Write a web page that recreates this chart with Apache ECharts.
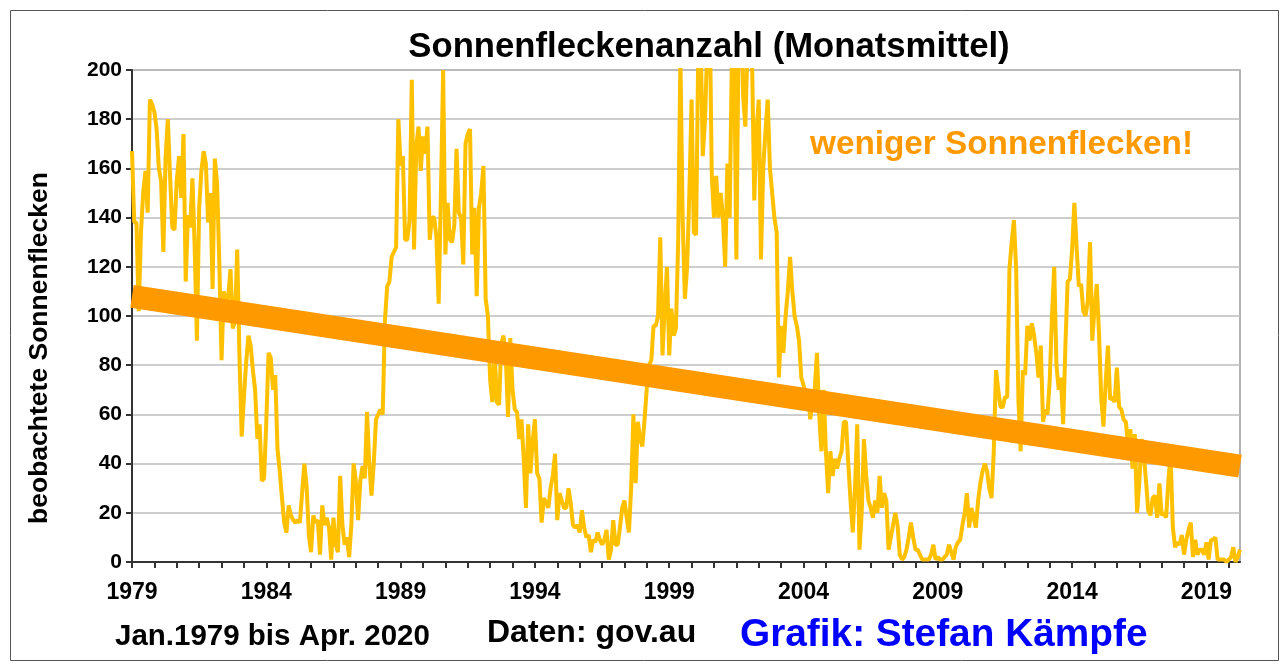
<!DOCTYPE html>
<html>
<head>
<meta charset="utf-8">
<script src="https://cdn.jsdelivr.net/npm/echarts@6/dist/echarts.min.js"></script>
<style>
  html, body { margin: 0; padding: 0; background: #fff; }
  #chart { width: 1285px; height: 666px; }
</style>
</head>
<body>
<div id="chart"></div>
<script>
// Monatsmittel der Sonnenflecken, Jan. 1979 bis Apr. 2020
const ssn1979to1988 = [
  167, 138, 138, 102, 134, 150, 159, 142, 188, 186, 183, 176,
  160, 155, 126, 164, 180, 157, 136, 135, 155, 165, 148, 174,
  114, 141, 136, 156, 128, 90, 144, 159, 167, 162, 138, 150,
  111, 164, 154, 122, 82, 110, 106, 108, 119, 95, 98, 127,
  84, 51, 67, 81, 92, 88, 78, 70, 50, 56, 33, 34,
  57, 85, 83, 70, 76, 46, 37, 26, 16, 12, 23, 19,
  17, 16, 17, 16, 28, 40, 31, 11, 4, 19, 16, 17,
  3, 23, 15, 18, 14, 1, 18, 7, 4, 35, 15, 7,
  10, 2, 15, 40, 33, 17, 33, 39, 34, 61, 40, 27,
  40, 58, 60, 62, 60, 98, 112, 114, 124, 126, 128, 180
]
const ssn1989to1998 = [
  161, 165, 131, 131, 139, 196, 127, 169, 177, 159, 173, 166,
  177, 131, 140, 140, 132, 105, 149, 200, 125, 146, 131, 130,
  137, 168, 142, 140, 121, 170, 174, 176, 125, 144, 108, 144,
  150, 161, 107, 100, 74, 65, 86, 65, 64, 89, 92, 83,
  59, 91, 70, 62, 61, 50, 58, 42, 22, 56, 36, 49,
  58, 36, 34, 16, 26, 24, 22, 30, 35, 44, 17, 28,
  25, 22, 22, 30, 24, 15, 14, 15, 12, 21, 14, 10,
  11, 4, 9, 8, 12, 9, 7, 9, 13, 1, 5, 17,
  7, 7, 14, 22, 25, 18, 12, 30, 60, 32, 57, 50,
  47, 58, 71, 80, 82, 96, 96, 100, 132, 84, 104, 120
]
const ssn1999to2008 = [
  84, 103, 92, 95, 130, 205, 140, 107, 120, 150, 188, 134,
  133, 210, 215, 165, 180, 210, 230, 158, 140, 157, 140, 150,
  140, 120, 162, 140, 205, 210, 123, 215, 235, 190, 177, 210,
  210, 205, 147, 175, 188, 123, 160, 175, 188, 160, 150, 140,
  134, 75, 96, 85, 100, 110, 124, 110, 100, 96, 90, 75,
  72, 68, 70, 58, 65, 70, 85, 60, 45, 70, 45, 28,
  45, 35, 42, 38, 42, 45, 57, 57, 40, 25, 12, 30,
  56, 5, 20, 50, 35, 25, 22, 18, 25, 20, 35, 22,
  28, 25, 5, 10, 15, 20, 15, 3, 1, 2, 5, 10,
  16, 10, 5, 5, 3, 1, 1, 1, 1, 3, 7, 1
]
const ssn2009to2020 = [
  2, 1, 1, 2, 3, 7, 4, 1, 6, 8, 9, 15,
  20, 28, 14, 22, 18, 14, 25, 32, 37, 40, 37, 30,
  26, 45, 78, 70, 63, 63, 67, 67, 119, 130, 139, 119,
  66, 45, 78, 76, 96, 90, 97, 92, 85, 75, 88, 57,
  62, 60, 74, 100, 120, 80, 70, 75, 56, 88, 114, 115,
  127, 146, 128, 112, 113, 102, 100, 106, 130, 90, 103, 113,
  93, 67, 55, 73, 88, 66, 67, 65, 79, 63, 62, 58,
  57, 47, 54, 38, 52, 20, 32, 50, 44, 33, 21, 19,
  26, 27, 18, 32, 19, 20, 18, 33, 44, 14, 6, 8,
  7, 11, 3, 9, 13, 16, 2, 9, 3, 5, 5, 3,
  8, 1, 9, 9, 10, 1, 1, 1, 1, 0, 1, 2,
  6, 0, 2, 5
]
// Trendgerade (Anfangs- und Endwert)
const trendStart = 108
const trendEnd = 39
const yTicks = [0, 20, 40, 60, 80, 100, 120, 140, 160, 180, 200]

const sunspots = [].concat(ssn1979to1988, ssn1989to1998, ssn1999to2008, ssn2009to2020)
const months = sunspots.map((v, i) => {
  const year = 1979 + Math.floor(i / 12)
  return year + '-' + String(i % 12 + 1).padStart(2, '0')
})

const font = "'Liberation Sans', Arial, sans-serif"
const chart = echarts.init(document.getElementById('chart'))

chart.setOption({
  backgroundColor: '#fff',
  animation: false,
  title: {
    text: 'Sonnenfleckenanzahl (Monatsmittel)',
    left: 704,
    top: 25,
    textAlign: 'center',
    textStyle: { fontFamily: font, fontWeight: 'bold', fontSize: 34.7, color: '#000' }
  },
  grid: {
    left: 132,
    right: 45,
    top: 70,
    bottom: 104,
    show: true,
    borderColor: '#999',
    borderWidth: 1.5
  },
  xAxis: {
    type: 'category',
    data: months,
    boundaryGap: false,
    axisLine: { lineStyle: { color: '#333', width: 2 } },
    axisTick: { interval: 9, length: 6, inside: false, lineStyle: { color: '#333', width: 2 } },
    axisLabel: {
      interval: 59,
      formatter: (v) => v.slice(0, 4),
      fontFamily: font,
      fontWeight: 'bold',
      fontSize: 23,
      color: '#000',
      margin: 19
    },
    splitLine: { show: false }
  },
  yAxis: {
    type: 'value',
    min: yTicks[0],
    max: yTicks[yTicks.length - 1],
    interval: 20,
    axisLine: { show: true, lineStyle: { color: '#333', width: 2 } },
    axisTick: { show: true, length: 6, lineStyle: { color: '#333', width: 2 } },
    axisLabel: { fontFamily: font, fontWeight: 'bold', fontSize: 21, color: '#000', margin: 10 },
    splitLine: { lineStyle: { color: '#bdbdbd', width: 1.5 } }
  },
  series: [
    {
      name: 'Sonnenflecken',
      type: 'line',
      data: sunspots,
      showSymbol: false,
      lineStyle: { color: '#FFC000', width: 4 },
      clip: true,
      z: 2
    },
    {
      name: 'Trend',
      type: 'line',
      data: [[0, trendStart], [sunspots.length - 1, trendEnd]],
      showSymbol: false,
      lineStyle: { color: '#FF9900', width: 23 },
      z: 3
    }
  ],
  graphic: [
    {
      type: 'text', x: 40, y: 348, rotation: Math.PI / 2,
      style: {
        text: 'beobachtete Sonnenflecken', fill: '#000',
        font: "bold 26.5px 'Liberation Sans', Arial",
        align: 'center', verticalAlign: 'middle'
      }
    },
    {
      type: 'text', left: 810, top: 128,
      style: { text: 'weniger Sonnenflecken!', fill: '#FF9900', font: "bold 33.3px 'Liberation Sans', Arial" }
    },
    {
      type: 'text', left: 115, top: 622,
      style: { text: 'Jan.1979 bis Apr. 2020', fill: '#000', font: "bold 29.5px 'Liberation Sans', Arial" }
    },
    {
      type: 'text', left: 487, top: 617,
      style: { text: 'Daten: gov.au', fill: '#000', font: "bold 32px 'Liberation Sans', Arial" }
    },
    {
      type: 'text', left: 740, top: 616,
      style: { text: 'Grafik: Stefan Kämpfe', fill: '#0000FF', font: "bold 38.8px 'Liberation Sans', Arial" }
    },
    {
      type: 'rect', left: 8, top: 8,
      shape: { width: 1268, height: 650 },
      style: { fill: 'none', stroke: '#555', lineWidth: 1 }
    }
  ]
})
</script>
</body>
</html>
